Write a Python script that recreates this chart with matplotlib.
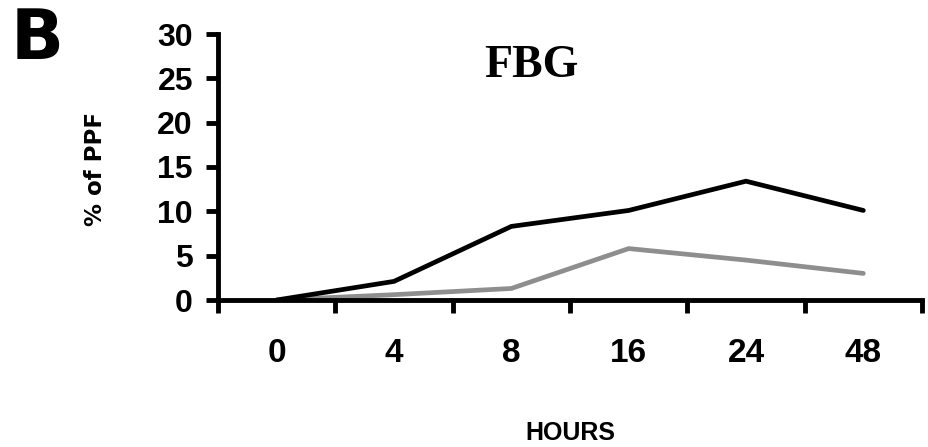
import matplotlib
matplotlib.use('Agg')
import matplotlib.pyplot as plt

hours = ['0', '4', '8', '16', '24', '48']
series_black = [0, 2.1, 8.3, 10.1, 13.4, 10.1]
series_gray = [0, 0.6, 1.3, 5.8, 4.5, 3.0]
y_ticks = [0, 5, 10, 15, 20, 25, 30]

sans = ['Liberation Sans', 'DejaVu Sans']

fig = plt.figure(figsize=(9.29, 4.47), dpi=100)
ax = fig.add_axes([218 / 929, 1 - 300 / 447, 704 / 929, 266 / 447])

x = list(range(len(hours)))
ax.plot(x, series_gray, color='#8e8e8e', linewidth=3.4, solid_capstyle='round', zorder=2)
ax.plot(x, series_black, color='black', linewidth=3.4, solid_capstyle='round', zorder=3)

ax.set_xlim(-0.5, len(hours) - 0.5)
ax.set_ylim(0, 30)

for side in ['top', 'right']:
    ax.spines[side].set_visible(False)
for side in ['left', 'bottom']:
    ax.spines[side].set_linewidth(3.5)
ax.spines['bottom'].set_zorder(4)

# labels at category centres, tick marks at the boundaries
ax.set_xticks(x)
ax.set_xticklabels(hours, fontsize=24, fontweight='bold', family=sans)
ax.set_xticks([i - 0.5 for i in range(len(hours) + 1)], minor=True)
ax.tick_params(axis='x', which='major', length=0, pad=27)
ax.tick_params(axis='x', which='minor', length=9, width=3.5, direction='out')

ax.set_yticks(y_ticks)
ax.set_yticklabels([str(v) for v in y_ticks], fontsize=23, fontweight='bold', family=sans)
ax.tick_params(axis='y', length=9, width=3.5, pad=9)

ax.text(0.445, 0.88, 'FBG', transform=ax.transAxes, ha='center', va='center',
        fontsize=33, fontweight='bold', family=['Liberation Serif', 'DejaVu Serif'])

fig.text(96 / 929, 1 - 169 / 447, '% of PPF', rotation=90, ha='center', va='center',
         fontsize=16.5, fontweight='bold', family=['DejaVu Sans'])
fig.text(570 / 929, 1 - 433 / 447, 'HOURS', ha='center', va='center',
         fontsize=18, fontweight='bold', family=sans)
fig.text(37 / 929, 1 - 6 / 447, 'B', ha='center', va='top',
         fontsize=50, fontweight='heavy', family=['DejaVu Sans'])

fig.savefig('out.png', dpi=100)
